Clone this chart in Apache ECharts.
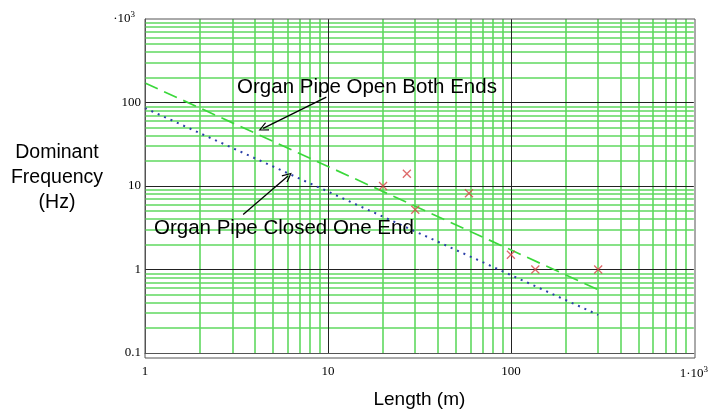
<!DOCTYPE html>
<html>
<head>
<meta charset="utf-8">
<script src="https://cdn.jsdelivr.net/npm/echarts@6/dist/echarts.min.js"></script>
<style>
  html, body { margin: 0; padding: 0; background: #fff; }
  #chart { width: 711px; height: 414px; }
</style>
</head>
<body>
<div id="chart"></div>
<script>
// Measured pipe lengths (m) and their dominant frequencies (Hz)
const lengths = [20, 27, 30, 59, 100, 136, 300];
const frequencies = [10, 14, 5.2, 8.2, 1.5, 1, 1];

// Straight lines on log-log axes: end points of each model line [length, frequency]
const openBothEnds = [[1, 171.5], [300, 0.572]];
const closedOneEnd = [[1, 85.75], [300, 0.286]];

// Grid: decade lines and the 2..9 lines inside each decade
const xDecades = [1, 10, 100];
const yDecades = [0.1, 1, 10, 100];
const steps = [2, 3, 4, 5, 6, 7, 8, 9];
const xMajor = [10, 100];
const yMajor = [1, 10, 100];

// Arrow end points [length, frequency] for the two annotations
const arrowOpen = [[9.8, 116], [4.42, 49]];
const arrowClosed = [[3.44, 4.57], [6.05, 13.2]];

const minorX = [];
xDecades.forEach(d => steps.forEach(s => minorX.push(+(d * s).toPrecision(6))));
const minorY = [];
yDecades.forEach(d => steps.forEach(s => minorY.push(+(d * s).toPrecision(6))));

const serif = '"Liberation Serif", "DejaVu Serif", serif';
const sans = '"Liberation Sans", Arial, sans-serif';

function tickText(v) {
  if (v >= 999) return '{a|1·10}{s|3}';
  return '{a|' + (+v.toPrecision(6)) + '}';
}
function tickTextY(v) {
  if (v >= 999) return '{a|·10}{sr|3}';
  return '{a|' + (+v.toPrecision(6)) + '}';
}
const richTick = {
  a: { fontFamily: serif, fontSize: 13, color: '#000' },
  s: { fontFamily: serif, fontSize: 9, color: '#000', verticalAlign: 'top', padding: [0, 0, 8, 0] },
  sr: { fontFamily: serif, fontSize: 9, color: '#000', verticalAlign: 'top', padding: [0, 6, 8, 0] }
};

const chevron = 'path://M5,0 L10,9 L8.8,9.6 L5,2.4 L1.2,9.6 L0,9 Z';

const chart = echarts.init(document.getElementById('chart'), null, { renderer: 'canvas' });

chart.setOption({
  animation: false,
  grid: { left: 145, right: 16, top: 19, bottom: 56, containLabel: false },
  xAxis: {
    type: 'log', logBase: 10, min: 1, max: 1000, splitNumber: 3,
    name: 'Length (m)', nameLocation: 'middle', nameGap: 37,
    nameTextStyle: { fontFamily: sans, fontSize: 19, color: '#000' },
    axisLine: { show: true, lineStyle: { color: '#555', width: 1 } },
    axisTick: { show: false },
    splitLine: { show: false },
    minorTick: { show: false },
    axisLabel: { margin: 12, formatter: tickText, rich: richTick }
  },
  yAxis: {
    type: 'log', logBase: 10, min: 0.1, max: 1000, splitNumber: 4,
    axisLine: { show: true, lineStyle: { color: '#555', width: 1 } },
    axisTick: { show: false },
    splitLine: { show: false },
    axisLabel: { margin: 4, formatter: tickTextY, rich: richTick }
  },
  graphic: [
    // frame on the top and right sides of the plot
    { type: 'rect', shape: { x: 145, y: 19, width: 550, height: 339 }, style: { fill: 'none', stroke: '#555', lineWidth: 1 }, z: 50, silent: true },
    { type: 'text', style: { text: 'Dominant\nFrequency\n(Hz)', x: 57, y: 178, textAlign: 'center', textVerticalAlign: 'middle', font: '19.5px ' + sans, fill: '#000', lineHeight: 25 }, z: 60 },
    { type: 'text', style: { text: 'Organ Pipe Open Both Ends', x: 367, y: 87, textAlign: 'center', textVerticalAlign: 'middle', font: '20.5px ' + sans, fill: '#000' }, z: 60 },
    { type: 'text', style: { text: 'Organ Pipe Closed One End', x: 154, y: 228, textAlign: 'left', textVerticalAlign: 'middle', font: '20.5px ' + sans, fill: '#000' }, z: 60 }
  ],
  series: [
    {
      name: 'minor grid', type: 'line', data: [], z: 1, silent: true,
      markLine: {
        silent: true, symbol: 'none', label: { show: false }, animation: false,
        lineStyle: { color: '#5fd95f', width: 1.6, type: 'solid' },
        data: minorX.map(v => ({ xAxis: v })).concat(minorY.map(v => ({ yAxis: v })))
      }
    },
    {
      name: 'major grid', type: 'line', data: [], z: 2, silent: true,
      markLine: {
        silent: true, symbol: 'none', label: { show: false }, animation: false,
        lineStyle: { color: '#222', width: 1, type: 'solid' },
        data: xMajor.map(v => ({ xAxis: v })).concat(yMajor.map(v => ({ yAxis: v })))
      }
    },
    {
      name: 'Organ Pipe Open Both Ends', type: 'line', data: openBothEnds, z: 5,
      showSymbol: false, symbol: 'none',
      lineStyle: { color: '#3bd83b', width: 1.7, type: [14, 7] }
    },
    {
      name: 'Organ Pipe Closed One End', type: 'line', data: closedOneEnd, z: 5,
      showSymbol: false, symbol: 'none',
      lineStyle: { color: '#2b3fa8', width: 2, type: [2, 5] }
    },
    {
      name: 'Measured', type: 'scatter', z: 6,
      data: lengths.map((l, i) => [l, frequencies[i]]),
      symbol: 'path://M0,0 L10,10 M10,0 L0,10', symbolSize: 8,
      itemStyle: { color: 'transparent', borderColor: '#d64545', borderWidth: 1.3 }
    },
    {
      name: 'arrows', type: 'line', data: [], z: 7, silent: true,
      markLine: {
        silent: true, label: { show: false }, animation: false,
        symbol: ['none', chevron], symbolSize: [9, 10],
        lineStyle: { color: '#000', width: 1.3, type: 'solid' },
        data: [
          [{ coord: arrowOpen[0] }, { coord: arrowOpen[1] }],
          [{ coord: arrowClosed[0] }, { coord: arrowClosed[1] }]
        ]
      }
    }
  ]
});
</script>
</body>
</html>
